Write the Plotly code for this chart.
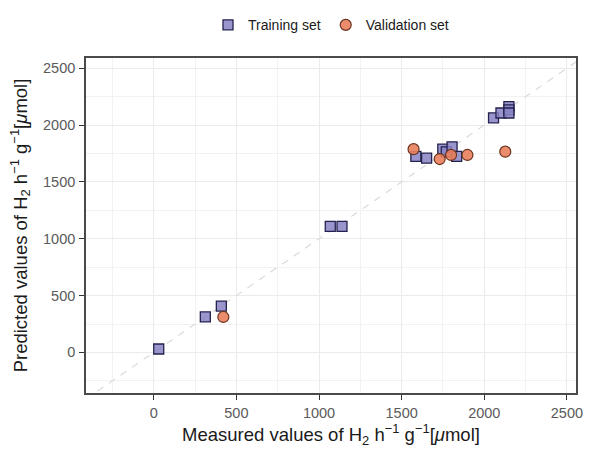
import plotly.graph_objects as go

# Training set: measured vs predicted H2 evolution rates (µmol h^-1 g^-1)
train_measured = [30, 312, 409, 1068, 1139, 1586, 1651, 1749, 1770, 1805, 1833, 2056, 2101, 2149, 2149, 2149]
train_predicted = [30, 312, 408, 1108, 1108, 1724, 1709, 1788, 1765, 1809, 1724, 2064, 2106, 2163, 2134, 2106]

# Validation set
valid_measured = [421, 1572, 1730, 1799, 1898, 2127]
valid_predicted = [312, 1788, 1701, 1737, 1737, 1766]

x_range = [-410, 2555]
y_range = [-357, 2590]
tick_vals = [0, 500, 1000, 1500, 2000, 2500]

FONT = "Liberation Sans, Arial, sans-serif"

fig = go.Figure()

# y = x reference line spanning the panel
diag = [min(x_range[0], y_range[0]), max(x_range[1], y_range[1])]
fig.add_trace(go.Scatter(
    x=diag, y=diag, mode="lines",
    line=dict(color="#DADADA", width=1.2, dash="7px,7px"),
    showlegend=False, hoverinfo="skip",
))

fig.add_trace(go.Scatter(
    x=train_measured, y=train_predicted, mode="markers", name="Training set",
    marker=dict(symbol="square", size=10, color="rgba(136,132,196,0.85)",
                line=dict(color="#23224F", width=1.3)),
))

fig.add_trace(go.Scatter(
    x=valid_measured, y=valid_predicted, mode="markers", name="Validation set",
    marker=dict(symbol="circle", size=11, color="rgba(233,128,92,0.9)",
                line=dict(color="#6B3420", width=1.2)),
))

axis_common = dict(
    tickvals=tick_vals,
    showgrid=True, gridcolor="#EBEBEB", gridwidth=1.1,
    minor=dict(dtick=250, tick0=0, showgrid=True, gridcolor="#F2F2F2", gridwidth=0.6),
    zeroline=False,
    showline=True, mirror=True, linecolor="#4A4A4A", linewidth=1.6,
    ticks="outside", ticklen=5, tickwidth=1.4, tickcolor="#333333",
    ticklabelstandoff=1,
    tickfont=dict(family=FONT, size=14.5, color="#5A5A5A"),
)

fig.update_xaxes(
    range=x_range,
    title=dict(text="Measured values of H<sub>2</sub> h<sup>−1</sup> g<sup>−1</sup>[<i>μ</i>mol]",
               font=dict(family=FONT, size=18.5, color="#1A1A1A"), standoff=4),
    **axis_common,
)
fig.update_yaxes(
    range=y_range,
    title=dict(text="Predicted values of H<sub>2</sub> h<sup>−1</sup> g<sup>−1</sup>[<i>μ</i>mol]",
               font=dict(family=FONT, size=18.5, color="#1A1A1A"), standoff=11),
    **axis_common,
)

fig.update_layout(
    width=592, height=450,
    margin=dict(l=86, r=9, t=46, b=57),
    plot_bgcolor="white", paper_bgcolor="white",
    legend=dict(orientation="h", x=0.5, xanchor="center", y=1.05, yanchor="bottom",
                font=dict(family=FONT, size=14, color="#1A1A1A"),
                itemwidth=30, bgcolor="rgba(0,0,0,0)"),
)

fig.write_html("out.html")
